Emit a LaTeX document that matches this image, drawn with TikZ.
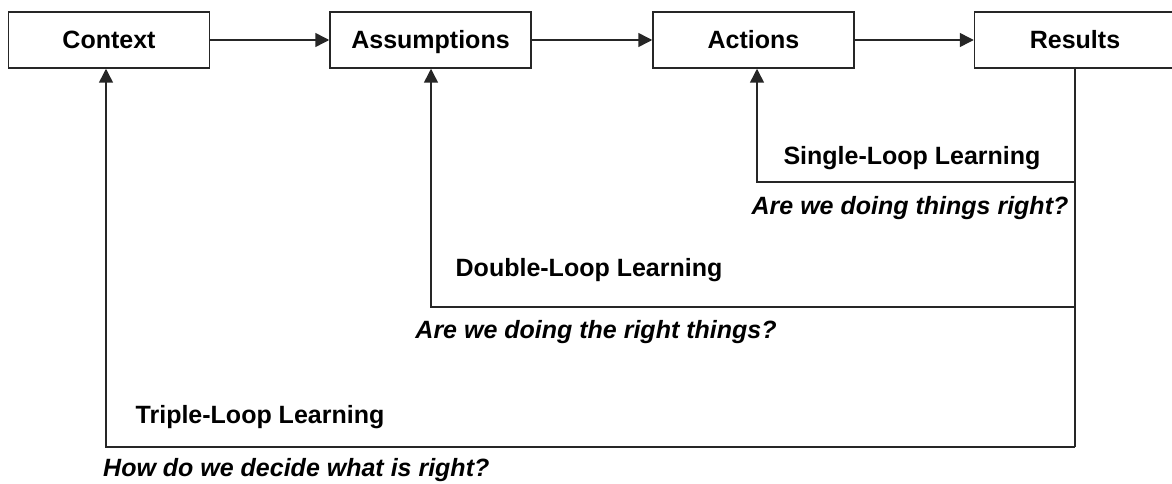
\documentclass[tikz,border=0pt]{standalone}
\usepackage{fontspec}
\setmainfont{Liberation Sans}
\usetikzlibrary{arrows.meta,calc}
\begin{document}
\begin{tikzpicture}[x=1pt,y=-1pt,
  box/.style={draw=black!85,line width=1.5pt,minimum width=201pt,minimum height=56pt,inner sep=0pt,
    text height=18pt,text depth=0pt,font=\fontsize{25}{30}\selectfont\bfseries},
  lbl/.style={inner sep=0pt,font=\fontsize{25}{30}\selectfont\bfseries},
  qst/.style={inner sep=0pt,font=\fontsize{25}{30}\selectfont\bfseries\itshape},
  ln/.style={draw=black!85,line width=1.5pt},
  arr/.style={ln,-{Triangle[length=14pt,width=14pt]}}]
\useasboundingbox[fill=white] (0,0) rectangle (1172,484);
% boxes
\node[box] (ctx) at (109,40) {Context};
\node[box] (asm) at (430.5,40) {Assumptions};
\node[box] (act) at (753.5,40) {Actions};
\node[box] (res) at (1075,40) {Results};
% forward arrows
\draw[arr] (ctx.east) -- (asm.west);
\draw[arr] (asm.east) -- (act.west);
\draw[arr] (act.east) -- (res.west);
% loop corners
\coordinate (c1) at (757,182);
\coordinate (c2) at (431,307);
\coordinate (c3) at (106,447);
% results down line
\draw[ln] (res.south) -- (res.south |- c3);
% loops
\draw[arr] (res.south |- c1) -- (c1) -- (c1 |- act.south);
\draw[arr] (res.south |- c2) -- (c2) -- (c2 |- asm.south);
\draw[arr] (res.south |- c3) -- (c3) -- (c3 |- ctx.south);
% labels
\node[lbl] (l1) at (912,158) {Single-Loop Learning};
\node[qst] (q1) at (910,208) {Are we doing things right?};
\node[lbl] (l2) at (589,270) {Double-Loop Learning};
\node[qst] (q2) at (596,332) {Are we doing the right things?};
\node[lbl] (l3) at (260,417) {Triple-Loop Learning};
\node[qst,anchor=west] (q3) at (103,470) {How do we decide what is right?};
\end{tikzpicture}
\end{document}
